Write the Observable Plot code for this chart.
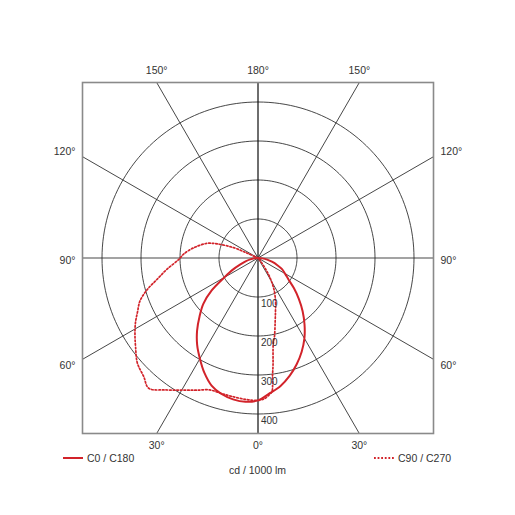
<!DOCTYPE html>
<html>
<head>
<meta charset="utf-8">
<script src="https://cdn.jsdelivr.net/npm/d3@7"></script>
<script src="https://cdn.jsdelivr.net/npm/@observablehq/plot@0.6"></script>
<style>
  body { margin: 0; background: #fff; font-family: "Liberation Sans", Arial, sans-serif; color: #333; }
  #wrap { position: relative; width: 515px; height: 515px; }
  .lg { position: absolute; font-size: 10.5px; line-height: 12px; white-space: nowrap; }
</style>
</head>
<body>
<div id="wrap">
  <div id="chart"></div>
  <svg class="lg" style="left:63px; top:452px" width="20" height="12"><line x1="0" x2="20" y1="6" y2="6" stroke="#d2232a" stroke-width="2"/></svg>
  <div class="lg" style="left:87px; top:452px">C0 / C180</div>
  <svg class="lg" style="left:374px; top:452px" width="20" height="12"><line x1="0" x2="20" y1="6" y2="6" stroke="#d2232a" stroke-width="1.8" stroke-dasharray="1.8,1.8"/></svg>
  <div class="lg" style="left:398px; top:452px">C90 / C270</div>
  <div class="lg" style="left:0; width:515px; text-align:center; top:464px">cd / 1000 lm</div>
</div>
<script>
// Luminous intensity distribution, cd per 1000 lm, by gamma angle (0° = straight down)
const gammaC0 = [0, 5, 10, 15, 20, 25, 30, 35, 40, 45, 50, 55, 60, 65, 70, 75, 80, 85, 90];
const cdC0    = [365, 348, 333, 313, 290, 265, 238, 208, 178, 148, 120, 95, 80, 68, 52, 37, 24, 11, 0];

const gammaC180 = [0, 5, 10, 15, 20, 25, 30, 35, 40, 45, 50, 55, 60, 65, 70, 75, 80, 85, 90];
const cdC180    = [365, 370, 368, 361, 348, 325, 298, 272, 243, 212, 183, 145, 100, 72, 48, 33, 20, 9, 0];

const gammaC90 = [0, 3, 5, 6, 7, 8, 10, 12, 15, 18, 22, 27, 32, 36, 40, 45];
const cdC90    = [365, 360, 350, 344, 305, 277, 225, 204, 170, 145, 120, 90, 55, 25, 8, 0];

const gammaC270 = [0, 5, 11, 15, 20, 25, 30, 35, 40, 44, 49, 54, 58, 62, 66, 70, 74, 78, 83, 89, 93, 99, 106, 109, 113, 114, 115];
const cdC270    = [365, 364, 361, 360, 360, 374, 391, 413, 436, 422, 410, 388, 372, 356, 338, 322, 296, 265, 235, 203, 191, 167, 136, 111, 68, 30, 0];

// Grid
const rings = [100, 200, 300, 400];
const spokeAngles = [0, 30, 60, 90, 120, 150, 180];
const maxCd = 450;

const red = "#d2232a";
const rad = d => d * Math.PI / 180;

// side = +1 draws to the right of the vertical axis, -1 to the left
function polar(gammas, cds, side) {
  return gammas.map((g, i) => ({
    x: side * cds[i] * Math.sin(rad(g)),
    y: -cds[i] * Math.cos(rad(g))
  }));
}

const solid = [...polar(gammaC180, cdC180, -1).reverse(), ...polar(gammaC0, cdC0, 1).slice(1)];
const dotted = [...polar(gammaC270, cdC270, -1).reverse(), ...polar(gammaC90, cdC90, 1).slice(1)];

// Concentric rings
const ringPts = rings.flatMap(r => d3.range(0, 361, 2).map(a => ({
  ring: r, x: r * Math.sin(rad(a)), y: r * Math.cos(rad(a))
})));

// Spokes from the centre to the frame, plus where they meet it
const spokeEnds = spokeAngles.flatMap(a => [-1, 1].map(side => {
  const s = Math.sin(rad(a)), c = Math.cos(rad(a));
  const t = maxCd / Math.max(Math.abs(s), Math.abs(c));
  return {angle: a, side, x: side * s * t, y: -c * t, vertical: Math.abs(c) > Math.abs(s) + 1e-9};
}));
const uniqueEnds = spokeEnds.filter(d => !((d.angle === 0 || d.angle === 180) && d.side === -1));
const capEnds = uniqueEnds.filter(d => d.vertical);
const sideEnds = uniqueEnds.filter(d => !d.vertical);
const sideNudge = a => a === 90 ? 3 : (a > 90 ? -5.5 : 6);

const labelMarks = [
  Plot.text(capEnds.filter(d => d.y > 0), {x: "x", y: "y", text: d => `${d.angle}°`, dy: -12}),
  Plot.text(capEnds.filter(d => d.y < 0), {x: "x", y: "y", text: d => `${d.angle}°`, dy: 12}),
  ...[60, 90, 120].flatMap(a => [
    Plot.text(sideEnds.filter(d => d.angle === a && d.side < 0), {x: "x", y: "y", text: d => `${d.angle}°`, dx: -7, dy: sideNudge(a), textAnchor: "end"}),
    Plot.text(sideEnds.filter(d => d.angle === a && d.side > 0), {x: "x", y: "y", text: d => `${d.angle}°`, dx: 7, dy: sideNudge(a), textAnchor: "start"})
  ])
];

const chart = Plot.plot({
  width: 515,
  height: 452,
  marginTop: 82,
  marginBottom: 19,
  marginLeft: 82,
  marginRight: 82,
  x: {domain: [-maxCd, maxCd], axis: null},
  y: {domain: [-maxCd, maxCd], axis: null},
  style: {fontFamily: "'Liberation Sans', Arial, sans-serif", fontSize: "10.5px", color: "#333", background: "#fff"},
  marks: [
    Plot.line(ringPts, {x: "x", y: "y", z: "ring", stroke: "#262626", strokeWidth: 0.85}),
    Plot.link(spokeEnds, {x1: 0, y1: 0, x2: "x", y2: "y", stroke: "#262626", strokeWidth: 0.85}),
    Plot.frame({stroke: "#8a8a8a", strokeWidth: 1.6}),
    Plot.line(dotted, {x: "x", y: "y", stroke: red, strokeWidth: 1.7, strokeDasharray: "1.6,2", curve: "catmull-rom"}),
    Plot.line(solid, {x: "x", y: "y", stroke: red, strokeWidth: 2, curve: "catmull-rom"}),
    Plot.text(rings, {x: 0, y: d => -d, text: d => String(d), dx: 3, dy: 7, textAnchor: "start", fontSize: 10, fill: "#333"}),
    ...labelMarks
  ]
});
document.getElementById("chart").appendChild(chart);
</script>
</body>
</html>
